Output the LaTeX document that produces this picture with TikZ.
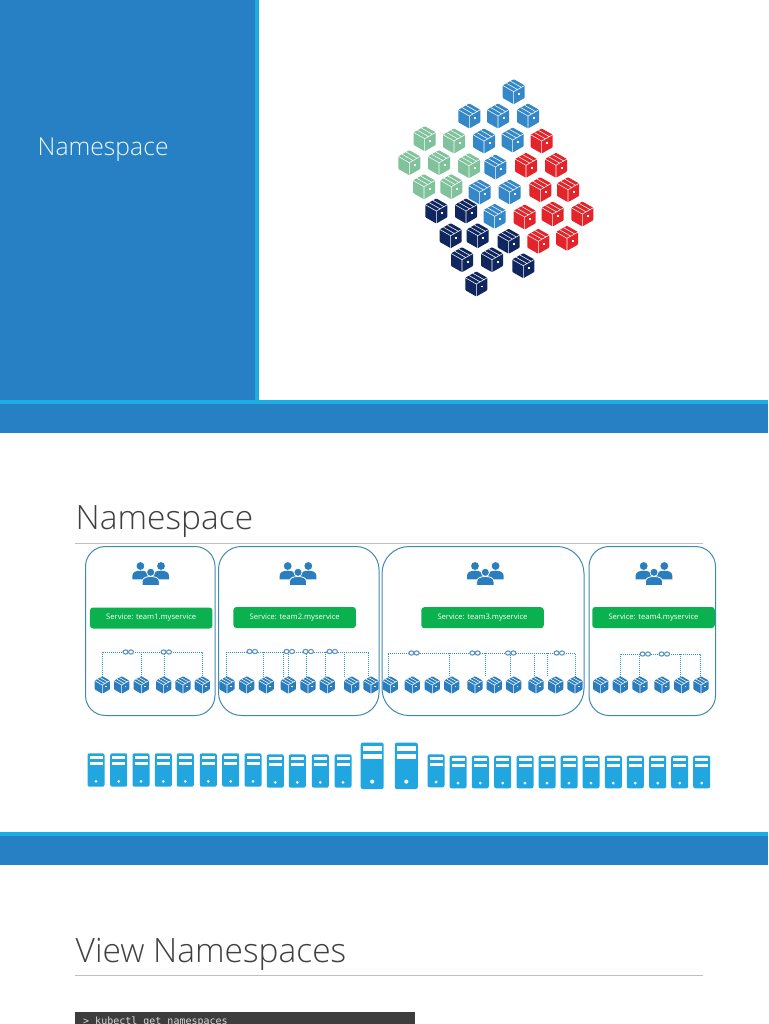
\documentclass[tikz,border=0pt]{standalone}
\usepackage{fontspec}
\setmainfont{Open Sans Light}[BoldFont={Open Sans}]
\newfontfamily\regfont{Open Sans}
\newfontfamily\monofont{DejaVu Sans Mono}
\definecolor{panelblue}{HTML}{2880C4}
\definecolor{lineblue}{HTML}{1CADE4}
\definecolor{cubeblue}{HTML}{3488C8}
\definecolor{cubegreen}{HTML}{80C29B}
\definecolor{cubered}{HTML}{E3242B}
\definecolor{cubenavy}{HTML}{10265F}
\definecolor{smallcube}{HTML}{2A7EBF}
\definecolor{srv}{HTML}{21A6E0}
\definecolor{grn}{HTML}{0BB04F}
\definecolor{frame}{HTML}{3F8BAE}
\definecolor{conn}{HTML}{2E9CC4}
\definecolor{linkc}{HTML}{5C93BE}
\definecolor{titlegray}{HTML}{404040}
\definecolor{rulegray}{HTML}{BFBFBF}
\tikzset{
  teambox/.style={draw=frame,line width=1pt,fill=white},
  svc/.style={fill=grn,draw=none,rounded corners=3pt,minimum height=21pt,text=white,font=\regfont\fontsize{7.6}{9}\selectfont,inner sep=0pt},
  conn line/.style={draw=conn,line width=1pt,densely dotted},
  head/.style={font=\fontsize{33.5}{38}\selectfont,text=titlegray,anchor=base west,inner sep=0pt},
}
% cube: x, y, colour, half-width, half-height
\newcommand{\cubeicon}[5]{%
  \begin{scope}[shift={(#1,#2)},x=#4pt,y=-#5pt]
    \fill[#3,rounded corners=0.8pt] (0,1)--(1,.5)--(1,-.5)--(0,-1)--(-1,-.5)--(-1,.5)--cycle;
    \draw[white,line width=0.55pt,line join=round]
      (-1,-.5)--(0,0)--(1,-.5) (0,0)--(0,1)
      (-.65,-.67)--(.35,-.17) (-.3,-.85)--(.7,-.35);
    \fill[white] (.42,.12) rectangle (.6,.27);
  \end{scope}}
% server: cx, top, bottom, half-width
\newcommand{\servericon}[4]{%
  \begin{scope}[shift={(#1,0)}]
    \fill[srv,rounded corners=2pt] (-#4,#2) rectangle (#4,#3);
    \pgfmathsetmacro{\hh}{#3-#2}
    \fill[white] (-#4+2,#2+0.07*\hh) rectangle (#4-2,#2+0.17*\hh);
    \fill[white] (-#4+2,#2+0.25*\hh) rectangle (#4-2,#2+0.36*\hh);
    \fill[white] (0,#2+0.84*\hh) circle (0.09*#4*2);
  \end{scope}}
% people icon, centred on the middle head
\newcommand{\peopleicon}[2]{%
  \begin{scope}[shift={(#1,#2)}]
    \foreach \dx in {-10.3,10.3}{
      \fill[smallcube] (\dx,-6.3) circle (3.9);
      \fill[smallcube] (\dx-8,7) -- (\dx-8,3.5) .. controls (\dx-8,-.5) and (\dx-4,-1.6) .. (\dx,-1.6)
         .. controls (\dx+4,-1.6) and (\dx+8,-.5) .. (\dx+8,3.5) -- (\dx+8,7) -- cycle;
    }
    \filldraw[fill=smallcube,draw=white,line width=0.8pt] (0,0) circle (4.1);
    \filldraw[fill=smallcube,draw=white,line width=0.8pt] (-8.6,13.2) -- (-8.6,9.5) .. controls (-8.6,5.5) and (-4.5,4.2) .. (0,4.2)
         .. controls (4.5,4.2) and (8.6,5.5) .. (8.6,9.5) -- (8.6,13.2) -- cycle;
  \end{scope}}
% chain link
\newcommand{\linkicon}[2]{%
  \begin{scope}[shift={(#1,#2)}]
    \draw[draw=linkc,line width=1.1pt,fill=white] (-2.7,0) circle (2.5 and 2.1);
    \draw[draw=linkc,line width=1.1pt,fill=white] (2.7,0) circle (2.5 and 2.1);
  \end{scope}}
\newcommand{\svctext}[1]{\raisebox{-1pt}{#1}}
\begin{document}
\begin{tikzpicture}[x=1pt,y=-1pt]
\useasboundingbox (0,0) rectangle (768,1024);
\fill[white] (0,0) rectangle (768,1024);
% slide 1
\fill[panelblue] (0,0) rectangle (255,400);
\fill[lineblue] (255,0) rectangle (259,400);
\fill[panelblue] (0,400) rectangle (768,433);
\fill[lineblue] (0,400) rectangle (768,403.5);
\node[anchor=base west,inner sep=0pt,text=white!92!lineblue,font=\fontsize{24.7}{28}\selectfont] (t1) at (37.5,156) {Namespace};
\foreach \x/\y in {513.7/91.7,469.3/116,498/116,528/116,484/141,512.7/140,495.3/167,479.7/192,509.7/192,494.7/216.3}
  {\cubeicon{\x}{\y}{cubeblue}{11}{12.5}}
\foreach \x/\y in {424.7/138.7,454/141,409.3/162.7,439/162.7,469/165.7,424/186.7,451.3/186.7}
  {\cubeicon{\x}{\y}{cubegreen}{11}{12.5}}
\foreach \x/\y in {541.7/141,526/165.3,556/165.3,540.3/189.7,568/189.7,524.7/217,552.7/214,582.3/214,538.3/241.3,567/238.3}
  {\cubeicon{\x}{\y}{cubered}{11}{12.5}}
\foreach \x/\y in {436.3/211,466/211,450.7/235.7,477.7/235.7,508.7/241.3,462/259.7,492/259.7,523.3/265.7,476.3/284}
  {\cubeicon{\x}{\y}{cubenavy}{11}{12.5}}
% slide 2
\node[head] (t2) at (75.5,529) {Namespace};
\draw[rulegray,line width=0.7pt] (75,543) -- (703,543);
\draw[teambox,rounded corners=20pt] (85.5,546.5) rectangle (215,715.5);
\draw[teambox,rounded corners=23pt] (218.5,546.5) rectangle (379,715.5);
\draw[teambox,rounded corners=27pt] (382,546.5) rectangle (584,715.5);
\draw[teambox,rounded corners=20pt] (589,546.5) rectangle (715.5,715.5);
\peopleicon{150.7}{572.3}
\peopleicon{298}{572.3}
\peopleicon{485.3}{572.3}
\peopleicon{654}{572.3}
\node[svc,minimum width=122.5pt] (s1) at (151.2,618) {\svctext{Service: team1.myservice}};
\node[svc,minimum width=122.5pt] (s2) at (294.7,617.5) {\svctext{Service: team2.myservice}};
\node[svc,minimum width=122.5pt] (s3) at (482.5,617.7) {\svctext{Service: team3.myservice}};
\node[svc,minimum width=122.5pt] (s4) at (653.5,617.5) {\svctext{Service: team4.myservice}};
% connectors
\draw[conn line] (102,677)--(102,652)--(202,652)--(202,677);
\foreach \x in {141,164}{\draw[conn line] (\x,652)--(\x,677);}
\foreach \x in {128.3,166.3}{\linkicon{\x}{652}}
\draw[conn line] (226.7,677)--(226.7,652)--(368.3,652)--(368.3,677);
\foreach \x in {263,283.3,288.3,306.7,325,344}{\draw[conn line] (\x,652)--(\x,677);}
\foreach \x in {252.3,289.3,308.3,332.3}{\linkicon{\x}{651.5}}
\draw[conn line] (388.3,677)--(388.3,653)--(575.7,653)--(575.7,677);
\foreach \x in {449.3,485.7,510.7,534,547.3}{\draw[conn line] (\x,653)--(\x,677);}
\foreach \x in {414,475,510.7,559.3}{\linkicon{\x}{653}}
\draw[conn line] (620,677)--(620,654)--(700,654)--(700,677);
\foreach \x in {639,680.7}{\draw[conn line] (\x,654)--(\x,677);}
\foreach \x in {645.3,664.3}{\linkicon{\x}{654}}
% small cubes
\foreach \x in {102.3,121.7,141.3,163.7,183,202.3,227,246.7,266.3,288.3,308,327.3,351.7,371,390.3,412.3,432.3,451.7,475,494.3,513.7,536,555.7,575,600.7,620.3,640,662,681.7,701}
  {\cubeicon{\x}{685}{smallcube}{7.6}{8.8}}
% servers
\foreach \x in {96,118.7,141,163.3,185.3,208.3,230.7,253}{\servericon{\x}{753.3}{786.7}{8.5}}
\foreach \x in {275.3,297.3,320.3,343}{\servericon{\x}{754.3}{787.7}{8.5}}
\servericon{372.2}{742.7}{789}{11.5}
\servericon{406.3}{742.7}{789}{11.5}
\servericon{436}{754.3}{787.3}{8.5}
\foreach \x in {458,480.3,502.7,525,547,569,591,613.3,635.3,657.7,679.7,701.7}{\servericon{\x}{755.7}{788.3}{8.5}}
% slide band
\fill[panelblue] (0,832) rectangle (768,865);
\fill[lineblue] (0,832) rectangle (768,835.5);
% slide 3
\node[head] (t3) at (75.5,962) {View Namespaces};
\draw[rulegray,line width=0.7pt] (75,975.5) -- (703,975.5);
\fill[titlegray!95!black] (75,1012) rectangle (415,1024);
\node[anchor=base west,inner sep=0pt,text=white!85!black,font=\monofont\fontsize{10}{11}\selectfont] (cmd) at (83,1024) {> kubectl get namespaces};
\end{tikzpicture}
\end{document}
